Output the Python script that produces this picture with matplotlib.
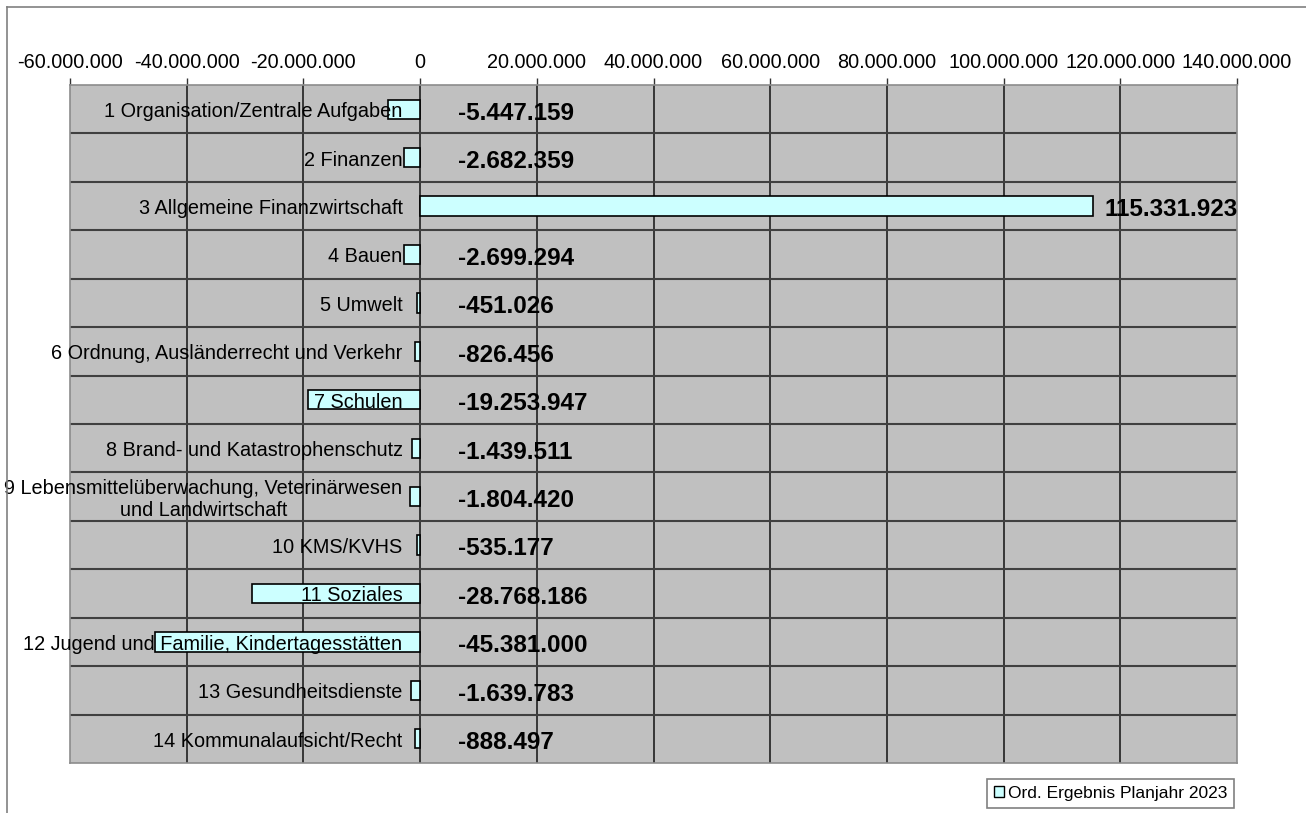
import numpy as np
import matplotlib
matplotlib.use("Agg")
import matplotlib.pyplot as plt
from matplotlib.ticker import MultipleLocator, FuncFormatter
from matplotlib.lines import Line2D
from matplotlib.patches import Patch

plt.rcParams['font.family'] = ['Liberation Sans', 'DejaVu Sans']

categories = [
    "1 Organisation/Zentrale Aufgaben",
    "2 Finanzen",
    "3 Allgemeine Finanzwirtschaft",
    "4 Bauen",
    "5 Umwelt",
    "6 Ordnung, Ausländerrecht und Verkehr",
    "7 Schulen",
    "8 Brand- und Katastrophenschutz",
    "9 Lebensmittelüberwachung, Veterinärwesen\nund Landwirtschaft",
    "10 KMS/KVHS",
    "11 Soziales",
    "12 Jugend und Familie, Kindertagesstätten",
    "13 Gesundheitsdienste",
    "14 Kommunalaufsicht/Recht",
]
values = [-5447159, -2682359, 115331923, -2699294, -451026, -826456,
          -19253947, -1439511, -1804420, -535177, -28768186, -45381000,
          -1639783, -888497]
series_name = "Ord. Ergebnis Planjahr 2023"


def de_fmt(v):
    return f"{int(v):,}".replace(",", ".")


fig = plt.figure(figsize=(13.06, 8.13), dpi=100)
ax = fig.add_axes([70/1306, 1-763/813, (1237-70)/1306, (763-85)/813])
ax.set_facecolor("#C0C0C0")

n = len(categories)
y = np.arange(n)
ax.barh(y, values, height=0.4, color="#CCFFFF", edgecolor="black",
        linewidth=1.2, zorder=3)

ax.set_xlim(-60e6, 140e6)
ax.set_ylim(n - 0.5, -0.5)

# gitter
ax.xaxis.set_major_locator(MultipleLocator(20e6))
for xv in np.arange(-40e6, 140e6, 20e6):
    ax.axvline(xv, color="#202020", lw=1.2, zorder=1)
for yv in np.arange(0.5, n - 0.5, 1):
    ax.axhline(yv, color="#404040", lw=1.5, zorder=1)

ax.xaxis.tick_top()
ax.xaxis.set_major_formatter(FuncFormatter(lambda v, p: de_fmt(v)))
ax.tick_params(axis="x", direction="out", length=5, width=1, pad=4,
               labelsize=14.3, color="#333333")
ax.set_yticks([])
for s in ax.spines.values():
    s.set_color("#8C8C8C")
    s.set_linewidth(1.2)

# beschriftungen
for i, (cat, v) in enumerate(zip(categories, values)):
    ax.text(-3.0e6, i + 0.05, cat, ha="right", va="center", fontsize=14.3,
            multialignment="center", clip_on=False, zorder=4)
    xt = v + 2.0e6 if v > 0 else 6.5e6
    ax.text(xt, i + 0.08, de_fmt(v), ha="left", va="center",
            fontsize=17.5, fontweight="bold", zorder=4)

# rahmen
fig.add_artist(Line2D([7/1306, 7/1306], [0, 1-7/813], color="#808080",
                      lw=1.2, transform=fig.transFigure))
fig.add_artist(Line2D([7/1306, 1], [1-7/813, 1-7/813], color="#808080",
                      lw=1.2, transform=fig.transFigure))

handle = Patch(facecolor="#CCFFFF", edgecolor="black", linewidth=1)
leg = fig.legend([handle], [series_name], loc="lower right",
                 bbox_to_anchor=(1234/1306, 1-808/813), fontsize=12.5,
                 fancybox=False, framealpha=1, borderaxespad=0,
                 handlelength=0.6, handleheight=0.6, handletextpad=0.2,
                 borderpad=0.4)
leg.get_frame().set_edgecolor("#808080")
leg.get_frame().set_linewidth(1.2)

fig.savefig("out.png", dpi=100)
